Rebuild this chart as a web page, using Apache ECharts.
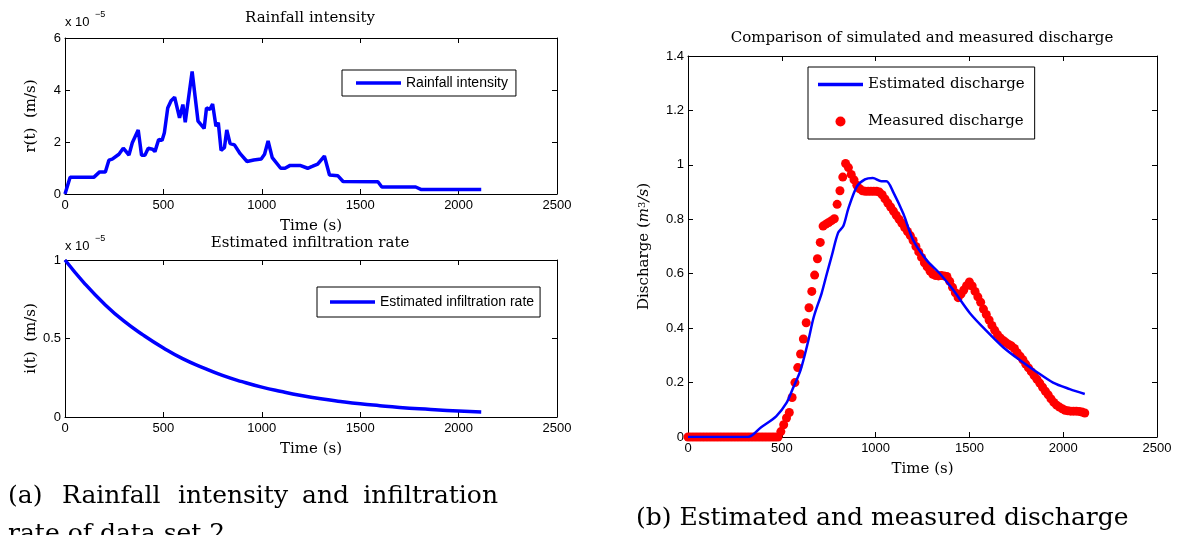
<!DOCTYPE html>
<html>
<head>
<meta charset="utf-8">
<script src="https://cdn.jsdelivr.net/npm/echarts@6/dist/echarts.min.js"></script>
<style>
  html, body { margin: 0; padding: 0; background: #fff; }
  #charts { width: 1179px; height: 535px; }
</style>
</head>
<body>
<div id="charts"></div>
<script>
// rainfall intensity, values in 1e-5 m/s
var rainT = [0, 26, 146, 176, 205, 223, 240, 274, 296, 325, 342, 372, 389, 406, 423, 445, 457, 476, 493, 505, 522, 539, 557, 582, 599, 611, 646, 676, 707, 719, 736, 750, 767, 779, 793, 810, 822, 839, 861, 890, 925, 959, 997, 1014, 1032, 1053, 1096, 1118, 1144, 1194, 1233, 1256, 1284, 1318, 1344, 1387, 1413, 1590, 1610, 1782, 1811, 2115];
var rainR = [0, 0.64, 0.64, 0.85, 0.85, 1.3, 1.34, 1.53, 1.76, 1.5, 1.97, 2.46, 1.49, 1.49, 1.76, 1.72, 1.63, 2.1, 2.06, 2.36, 3.31, 3.59, 3.72, 2.93, 3.44, 2.76, 4.71, 2.8, 2.52, 3.31, 3.25, 3.46, 2.61, 2.74, 1.68, 1.78, 2.46, 1.94, 1.89, 1.55, 1.25, 1.31, 1.35, 1.53, 2.04, 1.4, 0.99, 0.99, 1.1, 1.1, 0.99, 1.06, 1.15, 1.46, 0.73, 0.7, 0.48, 0.47, 0.27, 0.27, 0.17, 0.17];

// estimated infiltration rate, values in 1e-5 m/s
var infT = [0, 100, 200, 300, 400, 500, 600, 700, 800, 900, 1000, 1100, 1200, 1300, 1400, 1500, 1600, 1700, 1800, 1900, 2000, 2115];
var infI = [1.0, 0.85, 0.72, 0.61, 0.52, 0.44, 0.37, 0.315, 0.265, 0.225, 0.19, 0.162, 0.137, 0.116, 0.099, 0.084, 0.072, 0.061, 0.052, 0.045, 0.038, 0.032];

// estimated discharge (m3/s)
var estT = [0, 320, 390, 470, 525, 560, 600, 640, 670, 713, 740, 766, 800, 828, 855, 900, 943, 985, 1030, 1058, 1094, 1148, 1200, 1272, 1343, 1414, 1503, 1591, 1680, 1768, 1857, 1946, 2035, 2115];
var estQ = [0, 0, 0.036, 0.076, 0.125, 0.18, 0.246, 0.35, 0.44, 0.53, 0.6, 0.665, 0.75, 0.775, 0.84, 0.92, 0.947, 0.952, 0.94, 0.94, 0.9, 0.82, 0.724, 0.65, 0.6, 0.54, 0.455, 0.39, 0.33, 0.283, 0.24, 0.2, 0.176, 0.158];

// measured discharge (m3/s)
var measT = [0, 15, 30, 45, 60, 75, 90, 105, 120, 135, 150, 165, 180, 195, 210, 225, 240, 255, 270, 285, 300, 315, 330, 345, 360, 375, 390, 405, 420, 435, 450, 465, 480,
  495, 510, 525, 540, 555, 570, 585, 600, 615, 630, 645, 660, 675, 690, 705, 720, 735, 750, 765, 780, 795, 810, 825, 840,
  855, 870, 885, 900, 915, 930, 945, 960, 975, 990, 1005, 1020, 1035, 1050, 1065, 1080, 1095, 1110, 1125, 1140, 1155, 1170, 1185, 1200,
  1215, 1230, 1245, 1260, 1275, 1290, 1305, 1320, 1335, 1350, 1365, 1380, 1395, 1410, 1425, 1440, 1455, 1470, 1485, 1500,
  1515, 1530, 1545, 1560, 1575, 1590, 1605, 1620, 1635, 1650, 1665, 1680, 1695, 1710, 1725, 1740, 1755, 1770, 1785, 1800,
  1815, 1830, 1845, 1860, 1875, 1890, 1905, 1920, 1935, 1950, 1965, 1980, 1995, 2010, 2025, 2040, 2055, 2070, 2085, 2100, 2115];
var measQ = [0, 0, 0, 0, 0, 0, 0, 0, 0, 0, 0, 0, 0, 0, 0, 0, 0, 0, 0, 0, 0, 0, 0, 0, 0, 0, 0, 0, 0, 0, 0, 0, 0,
  0.02, 0.045, 0.07, 0.09, 0.145, 0.2, 0.255, 0.305, 0.36, 0.42, 0.475, 0.535, 0.595, 0.655, 0.715, 0.775, 0.782, 0.788, 0.795, 0.802, 0.855, 0.905, 0.955, 1.005,
  0.99, 0.965, 0.945, 0.925, 0.912, 0.905, 0.903, 0.903, 0.903, 0.903, 0.903, 0.9, 0.89, 0.875, 0.86, 0.845, 0.83, 0.815, 0.8, 0.785, 0.77, 0.755, 0.74, 0.722,
  0.7, 0.68, 0.66, 0.64, 0.625, 0.61, 0.598, 0.593, 0.592, 0.593, 0.592, 0.59, 0.572, 0.55, 0.53, 0.512, 0.525, 0.54, 0.556, 0.57,
  0.555, 0.535, 0.515, 0.495, 0.47, 0.45, 0.43, 0.41, 0.392, 0.376, 0.364, 0.355, 0.347, 0.34, 0.334, 0.325, 0.31, 0.297, 0.284, 0.268,
  0.254, 0.24, 0.226, 0.212, 0.198, 0.183, 0.168, 0.155, 0.14, 0.127, 0.117, 0.11, 0.104, 0.098, 0.096, 0.095, 0.095, 0.095, 0.094, 0.092, 0.088];

var serif = 'DejaVu Serif';
var sans = 'Liberation Sans';
var lineIcon = 'path://M0,0H45V3.5H0Z';

function pairs(xs, ys) {
  return xs.map(function (x, i) { return [x, ys[i]]; });
}

function plain(v) { return String(v); }

function xAxes(grid, name) {
  var bottom = {
    type: 'value', gridIndex: grid, min: 0, max: 2500, interval: 500, position: 'bottom',
    axisLine: { onZero: false, lineStyle: { color: '#000', width: 1 } },
    axisTick: { inside: true, length: 5, lineStyle: { color: '#000' } },
    axisLabel: { color: '#000', fontFamily: sans, fontSize: 13, margin: 5, showMinLabel: true, showMaxLabel: true, formatter: plain },
    splitLine: { show: false },
    name: name, nameLocation: 'middle', nameGap: 25,
    nameTextStyle: { color: '#000', fontFamily: serif, fontSize: 15 }
  };
  var top = {
    type: 'value', gridIndex: grid, min: 0, max: 2500, interval: 500, position: 'top',
    axisLine: { onZero: false, lineStyle: { color: '#000', width: 1 } },
    axisTick: { inside: true, length: 5, lineStyle: { color: '#000' } },
    axisLabel: { show: false }, splitLine: { show: false }
  };
  return [bottom, top];
}

function yAxes(grid, max, step, name, gap, rich) {
  var left = {
    type: 'value', gridIndex: grid, min: 0, max: max, interval: step, position: 'left',
    axisLine: { onZero: false, lineStyle: { color: '#000', width: 1 } },
    axisTick: { inside: true, length: 5, lineStyle: { color: '#000' } },
    axisLabel: { color: '#000', fontFamily: sans, fontSize: 13, margin: 4, showMinLabel: true, showMaxLabel: true, formatter: plain },
    splitLine: { show: false },
    name: name, nameLocation: 'middle', nameGap: gap,
    nameTextStyle: { color: '#000', fontFamily: serif, fontSize: 15, rich: rich }
  };
  var right = {
    type: 'value', gridIndex: grid, min: 0, max: max, interval: step, position: 'right',
    axisLine: { onZero: false, lineStyle: { color: '#000', width: 1 } },
    axisTick: { inside: true, length: 5, lineStyle: { color: '#000' } },
    axisLabel: { show: false }, splitLine: { show: false }
  };
  return [left, right];
}

var chartDom = document.getElementById('charts');
var myChart = echarts.init(chartDom, null, { renderer: 'canvas' });

var supRich = {
  it: { fontFamily: serif, fontSize: 15, fontStyle: 'italic', color: '#000' },
  sup: { fontFamily: serif, fontSize: 10, verticalAlign: 'top', color: '#000' }
};

var option = {
  animation: false,
  backgroundColor: '#fff',
  grid: [
    { left: 65, top: 38, width: 492, height: 156 },
    { left: 65, top: 260, width: 492, height: 157 },
    { left: 688, top: 56, width: 469, height: 381 }
  ],
  xAxis: [].concat(xAxes(0, 'Time (s)'), xAxes(1, 'Time (s)'), xAxes(2, 'Time (s)')),
  yAxis: [].concat(
    yAxes(0, 6, 2, 'r(t)  (m/s)', 26),
    yAxes(1, 1, 0.5, 'i(t)  (m/s)', 26),
    yAxes(2, 1.4, 0.2, 'Discharge ({it|m}{sup|3}{it|/s})', 36, supRich)
  ),
  legend: [
    {
      data: [{ name: 'Rainfall intensity', icon: lineIcon }], left: 342, top: 70, padding: [6, 8, 6, 14],
      borderColor: '#000', borderWidth: 1, itemWidth: 45, itemHeight: 4, itemGap: 5,
      textStyle: { fontFamily: sans, fontSize: 14, color: '#000' }
    },
    {
      data: [{ name: 'Estimated infiltration rate', icon: lineIcon }], left: 317, top: 287, padding: [8, 6, 8, 13],
      borderColor: '#000', borderWidth: 1, itemWidth: 45, itemHeight: 4,
      textStyle: { fontFamily: sans, fontSize: 14, color: '#000' }
    },
    {
      data: [{ name: 'Estimated discharge', icon: lineIcon }, { name: 'Measured discharge', icon: 'circle' }],
      orient: 'vertical', left: 808, top: 67,
      padding: [10, 10, 10, 10], borderColor: '#000', borderWidth: 1, itemWidth: 45, itemHeight: 10, itemGap: 22,
      textStyle: { fontFamily: serif, fontSize: 15, color: '#000' }
    }
  ],
  graphic: [
    { type: 'text', x: 310, y: 18, style: { text: 'Rainfall intensity', fontFamily: serif, fontSize: 15, align: 'center', verticalAlign: 'middle', fill: '#000' } },
    { type: 'text', x: 65, y: 22, style: { text: 'x 10', fontFamily: sans, fontSize: 13, align: 'left', verticalAlign: 'middle', fill: '#000' } },
    { type: 'text', x: 95, y: 15, style: { text: '\u22125', fontFamily: sans, fontSize: 9, align: 'left', verticalAlign: 'middle', fill: '#000' } },
    { type: 'text', x: 310, y: 243, style: { text: 'Estimated infiltration rate', fontFamily: serif, fontSize: 15, align: 'center', verticalAlign: 'middle', fill: '#000' } },
    { type: 'text', x: 65, y: 246, style: { text: 'x 10', fontFamily: sans, fontSize: 13, align: 'left', verticalAlign: 'middle', fill: '#000' } },
    { type: 'text', x: 95, y: 239, style: { text: '\u22125', fontFamily: sans, fontSize: 9, align: 'left', verticalAlign: 'middle', fill: '#000' } },
    { type: 'text', x: 922, y: 38, style: { text: 'Comparison of simulated and measured discharge', fontFamily: serif, fontSize: 15, align: 'center', verticalAlign: 'middle', fill: '#000' } },
    // captions
    { type: 'text', x: 8, y: 496, style: { text: '(a)', fontFamily: serif, fontSize: 25, verticalAlign: 'middle', fill: '#000' } },
    { type: 'text', x: 62, y: 496, style: { text: 'Rainfall', fontFamily: serif, fontSize: 25, verticalAlign: 'middle', fill: '#000' } },
    { type: 'text', x: 178, y: 496, style: { text: 'intensity', fontFamily: serif, fontSize: 25, verticalAlign: 'middle', fill: '#000' } },
    { type: 'text', x: 302, y: 496, style: { text: 'and', fontFamily: serif, fontSize: 25, verticalAlign: 'middle', fill: '#000' } },
    { type: 'text', x: 498, y: 496, style: { text: 'infiltration', fontFamily: serif, fontSize: 25, align: 'right', verticalAlign: 'middle', fill: '#000' } },
    { type: 'text', x: 8, y: 534, style: { text: 'rate of data set 2', fontFamily: serif, fontSize: 25, verticalAlign: 'middle', fill: '#000' } },
    { type: 'text', x: 636, y: 518, style: { text: '(b) Estimated and measured discharge', fontFamily: serif, fontSize: 25, verticalAlign: 'middle', fill: '#000' } }
  ],
  series: [
    {
      name: 'Rainfall intensity', type: 'line', xAxisIndex: 0, yAxisIndex: 0,
      data: pairs(rainT, rainR), symbol: 'none', lineStyle: { color: '#0000ff', width: 3.5 }, itemStyle: { color: '#0000ff' }
    },
    {
      name: 'Estimated infiltration rate', type: 'line', xAxisIndex: 2, yAxisIndex: 2, smooth: true,
      data: pairs(infT, infI), symbol: 'none', lineStyle: { color: '#0000ff', width: 3.5 }, itemStyle: { color: '#0000ff' }
    },
    {
      name: 'Measured discharge', type: 'scatter', xAxisIndex: 4, yAxisIndex: 4,
      data: pairs(measT, measQ), symbol: 'circle', symbolSize: 9, itemStyle: { color: '#ff0000', opacity: 1 }, z: 2
    },
    {
      name: 'Estimated discharge', type: 'line', xAxisIndex: 4, yAxisIndex: 4, smooth: 0.3,
      data: pairs(estT, estQ), symbol: 'none', lineStyle: { color: '#0000ff', width: 2.5 }, itemStyle: { color: '#0000ff' }, z: 3
    }
  ]
};

option && myChart.setOption(option);
</script>
</body>
</html>
